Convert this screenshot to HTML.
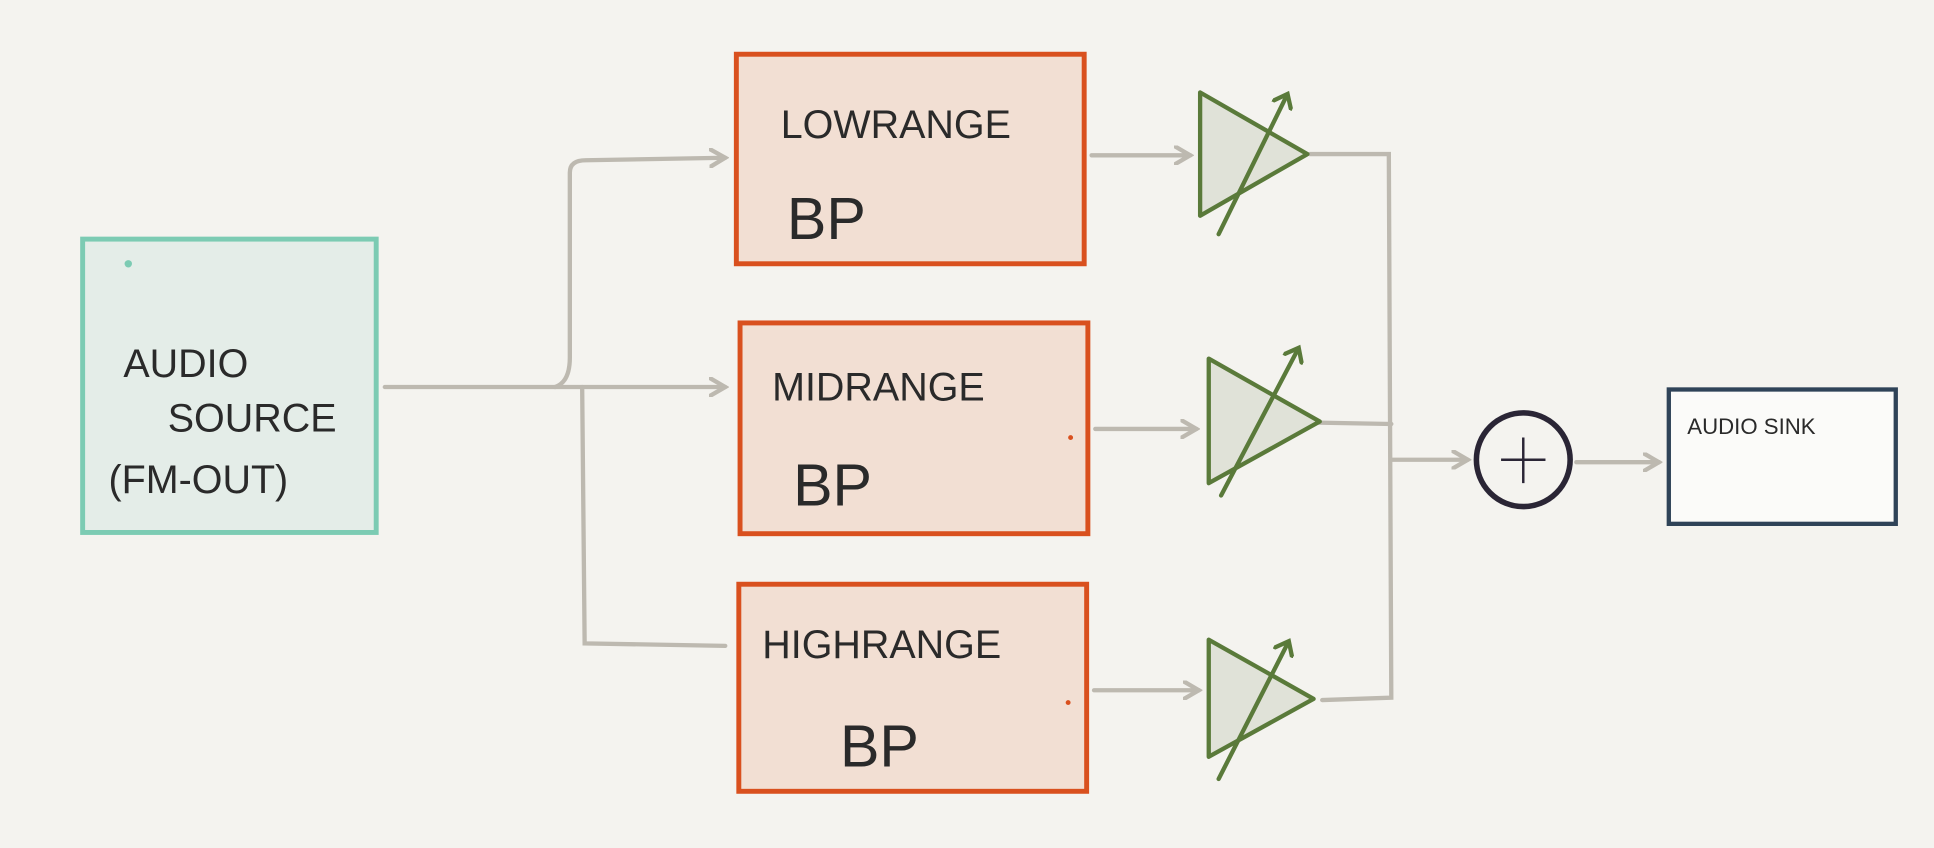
<!DOCTYPE html>
<html><head><meta charset="utf-8"><style>
html,body{margin:0;padding:0;background:#f4f3ef;}
svg{display:block;}
text{font-family:"Liberation Sans",sans-serif;fill:#2a2a2a;}
</style></head><body>
<svg width="1934" height="848" viewBox="0 0 1568 688" preserveAspectRatio="none" xmlns="http://www.w3.org/2000/svg">
<rect width="1568" height="688" fill="#f4f3ef"/>
<defs>
<marker id="a" markerWidth="16" markerHeight="16" refX="13" refY="8" orient="auto" markerUnits="userSpaceOnUse">
<path d="M1,1 L13,8 L1,15" fill="none" stroke="#bdb9b0" stroke-width="3.5" stroke-linecap="round"/></marker>
<marker id="g" markerWidth="18" markerHeight="18" refX="9" refY="9" orient="auto" markerUnits="userSpaceOnUse">
<path d="M1,1 L11,9 L1,17" fill="none" stroke="#5a7a3a" stroke-width="3.5" stroke-linecap="round"/></marker>
</defs>
<g fill="none" stroke="#bdb9b0" stroke-width="3.5" stroke-linecap="round">
<path d="M312,314 L588,314" marker-end="url(#a)"/>
<path d="M450,314 Q462,310 462,290 L462,140 Q462,130 475,130 L588,128" marker-end="url(#a)"/>
<path d="M472,314 L474,522 L588,524"/>
<path d="M885,126 L965,126" marker-end="url(#a)"/>
<path d="M888,348 L970,348" marker-end="url(#a)"/>
<path d="M887,560 L972,560" marker-end="url(#a)"/>
<path d="M1062,125 L1126,125 L1128,566 L1072,568"/>
<path d="M1020,342 L1128,344"/>
<path d="M1128,373 L1190,373" marker-end="url(#a)"/>
<path d="M1278,375 L1345,375" marker-end="url(#a)"/>
</g>
<rect x="67" y="194" width="238" height="238" fill="#e4ede8" stroke="#7ccbb3" stroke-width="4"/>
<circle cx="104" cy="214" r="3" fill="#7ccbb3"/>
<rect x="597" y="44" width="282" height="170" fill="#f2dfd3" stroke="#d9501e" stroke-width="4"/>
<rect x="600" y="262" width="282" height="171" fill="#f2dfd3" stroke="#d9501e" stroke-width="4"/>
<rect x="599" y="474" width="282" height="168" fill="#f2dfd3" stroke="#d9501e" stroke-width="4"/>
<g fill="#e0e2d8" stroke="#5a7a3a" stroke-width="3.5" stroke-linejoin="round">
<path d="M973,75 L973,175 L1060,125 Z"/>
<path d="M980,291 L980,392 L1070,342 Z"/>
<path d="M980,519 L980,614 L1065,567 Z"/>
</g>
<g stroke="#5a7a3a" stroke-width="3.5" fill="none" stroke-linecap="round">
<path d="M988,190 L1043,78" marker-end="url(#g)"/>
<path d="M990,402 L1052,284" marker-end="url(#g)"/>
<path d="M988,632 L1044,522" marker-end="url(#g)"/>
</g>
<circle cx="1235" cy="373" r="38" fill="#f4f3ef" stroke="#2a2535" stroke-width="4.5"/>
<path d="M1235,355 L1235,392 M1217,373 L1253,373" stroke="#2a2535" stroke-width="2"/>
<rect x="1353" y="316" width="184" height="109" fill="#fbfbf9" stroke="#2f4358" stroke-width="3.5"/>
<g font-size="32">
<text x="100" y="306">AUDIO</text>
<text x="136" y="350">SOURCE</text>
<text x="88" y="400">(FM-OUT)</text>
<text x="633" y="112">LOWRANGE</text>
<text x="626" y="325">MIDRANGE</text>
<text x="618" y="534">HIGHRANGE</text>
</g>
<g font-size="48">
<text x="638" y="194">BP</text>
<text x="643" y="410">BP</text>
<text x="681" y="622">BP</text>
</g>
<text x="1368" y="352" font-size="18">AUDIO SINK</text>
<circle cx="868" cy="355" r="2" fill="#d9501e"/>
<circle cx="866" cy="570" r="2" fill="#d9501e"/>
</svg>
</body></html>
